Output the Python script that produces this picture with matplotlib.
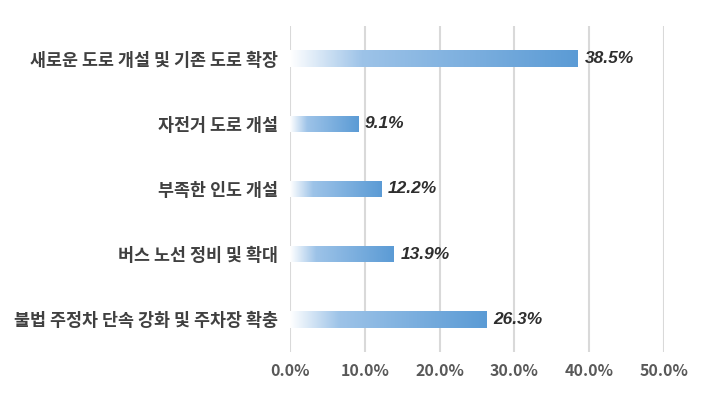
import numpy as np
import matplotlib
matplotlib.use('Agg')
import matplotlib.pyplot as plt
from matplotlib.colors import LinearSegmentedColormap

# =========================================================
# DATA
# =========================================================

categories = [
    '새로운 도로 개설 및 기존 도로 확장',
    '자전거 도로 개설',
    '부족한 인도 개설',
    '버스 노선 정비 및 확대',
    '불법 주정차 단속 강화 및 주차장 확충',
]

values = [38.5, 9.1, 12.2, 13.9, 26.3]

x_ticks = [0, 10, 20, 30, 40, 50]

# =========================================================
# STYLE
# =========================================================

plt.rcParams['font.family'] = ['Noto Sans CJK KR', 'DejaVu Sans']

grad_cmap = LinearSegmentedColormap.from_list(
    'bar_grad',
    [(0.0, '#FFFFFF'), (0.25, '#9DC3E8'), (1.0, '#5B9BD5')]
)

# =========================================================
# FIGURE
# =========================================================

fig = plt.figure(figsize=(7.1, 4.0), dpi=100)

ax = fig.add_axes([290 / 710, 48 / 400, 374 / 710, 326 / 400])

y_pos = np.arange(len(categories))

bars = ax.barh(
    y_pos,
    values,
    height=0.25,
    facecolor='none',
    edgecolor='none',
    zorder=3
)

# gradient fill inside each bar
gradient = np.linspace(0, 1, 256).reshape(1, -1)

for bar in bars:
    x0 = bar.get_x()
    y0 = bar.get_y()
    w = bar.get_width()
    h = bar.get_height()
    im = ax.imshow(
        gradient,
        cmap=grad_cmap,
        aspect='auto',
        extent=[x0, x0 + w, y0, y0 + h],
        zorder=2
    )
    im.set_clip_path(bar)

# value labels
for yi, v in zip(y_pos, values):
    ax.text(
        v + 0.9,
        yi,
        f'{v:.1f}%',
        va='center',
        ha='left',
        fontsize=12.5,
        fontweight='bold',
        fontstyle='italic',
        family=['Liberation Sans', 'DejaVu Sans'],
        color='#2E2E2E'
    )

# =========================================================
# AXES
# =========================================================

ax.set_xlim(0, 50)
ax.set_ylim(len(categories) - 0.5, -0.5)

ax.set_xticks(x_ticks)
ax.set_xticklabels([f'{t:.1f}%' for t in x_ticks])

ax.set_yticks(y_pos)
ax.set_yticklabels(categories)

ax.tick_params(axis='x', length=0, pad=8, labelsize=11.5, labelcolor='#595959')
ax.tick_params(axis='y', length=0, pad=9, labelsize=12.5, labelcolor='#404040')

for lbl in ax.get_xticklabels() + ax.get_yticklabels():
    lbl.set_fontweight('bold')

ax.grid(axis='x', color='#D9D9D9', linewidth=1.5, zorder=0)
ax.set_axisbelow(True)

for side in ['top', 'right', 'bottom', 'left']:
    ax.spines[side].set_visible(False)

fig.savefig('out.png', dpi=100, facecolor='white')
